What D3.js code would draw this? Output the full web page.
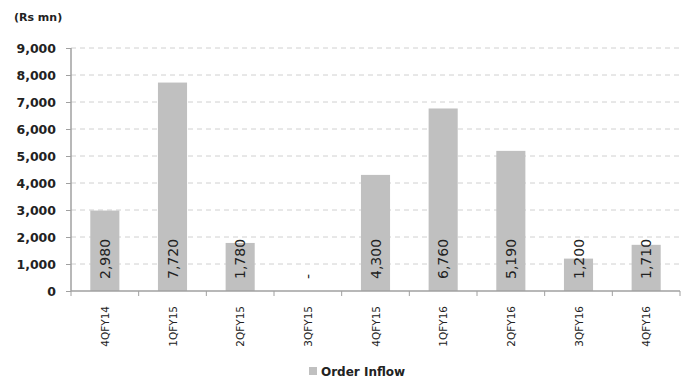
<!DOCTYPE html>
<html><head><meta charset="utf-8">
<script src="https://cdn.jsdelivr.net/npm/d3@7"></script>
<style>body{margin:0;background:#fff}svg{display:block;font-family:"DejaVu Sans",sans-serif}</style>
</head><body><svg id="c" width="686" height="379"></svg>
<script>
const categories = ["4QFY14","1QFY15","2QFY15","3QFY15","4QFY15","1QFY16","2QFY16","3QFY16","4QFY16"];
const orderInflow = [2980,7720,1780,0,4300,6760,5190,1200,1710];
const yTicks = [0,1000,2000,3000,4000,5000,6000,7000,8000,9000];
const seriesName = "Order Inflow";
const unitLabel = "(Rs mn)";

const svg = d3.select("#c");
const x = d3.scaleBand().domain(categories).range([71,680]).paddingInner(0.57).paddingOuter(0.285);
const y = d3.scaleLinear().domain([0,9000]).range([291,48]);
const fmt = d3.format(",");

svg.append("g").selectAll("line").data(yTicks.filter(d=>d>0)).join("line")
  .attr("x1",71).attr("x2",680).attr("y1",d=>y(d)).attr("y2",d=>y(d))
  .attr("stroke","#d0d0d0").attr("stroke-dasharray","5,4");

svg.append("g").selectAll("rect").data(orderInflow).join("rect")
  .attr("x",(d,i)=>x(categories[i])).attr("width",x.bandwidth())
  .attr("y",d=>y(d)).attr("height",d=>y(0)-y(d)).attr("fill","#c0c0c0");

// y axis
const ya = svg.append("g").attr("transform","translate(71,0)")
  .call(d3.axisLeft(y).tickValues(yTicks).tickFormat(fmt).tickSize(5).tickPadding(10));
ya.select(".domain").attr("stroke","#a0a0a0").attr("stroke-width",1.5).attr("d","M0,48V291");
ya.selectAll(".tick line").attr("stroke","#a0a0a0");
ya.selectAll("text").attr("font-size",12.5).attr("font-weight","bold").attr("fill","#222")
  .attr("font-family","'DejaVu Sans',sans-serif");

// x axis
const xa = svg.append("g").attr("transform","translate(0,291)");
xa.append("line").attr("x1",71).attr("x2",680).attr("stroke","#a0a0a0").attr("stroke-width",1.5);
const bounds = categories.map(c=>x(c)-x.step()*x.paddingInner()/2).concat([680]);
xa.selectAll("line.t").data(bounds).join("line").attr("class","t")
  .attr("x1",d=>d).attr("x2",d=>d).attr("y1",0).attr("y2",5).attr("stroke","#a0a0a0");
xa.selectAll("text").data(categories).join("text")
  .attr("transform",d=>`translate(${x(d)+x.bandwidth()/2+4},15) rotate(-90)`)
  .attr("text-anchor","end").attr("font-size",10.5).attr("fill","#222").text(d=>d);

// value labels
svg.append("g").selectAll("text").data(orderInflow).join("text")
  .attr("transform",(d,i)=>`translate(${x(categories[i])+x.bandwidth()/2+5},279) rotate(-90)`)
  .attr("text-anchor","start").attr("font-size",14).attr("fill","#222")
  .text(d=>d===0?"-":fmt(d));

// unit
svg.append("text").attr("x",14).attr("y",21).attr("font-size",11).attr("font-weight","bold").attr("fill","#222").text(unitLabel);

// legend
svg.append("rect").attr("x",309).attr("y",367).attr("width",8).attr("height",8).attr("fill","#c0c0c0");
svg.append("text").attr("x",321).attr("y",376).attr("font-size",12).attr("font-weight","bold").attr("fill","#222").text(seriesName);
</script></body></html>
